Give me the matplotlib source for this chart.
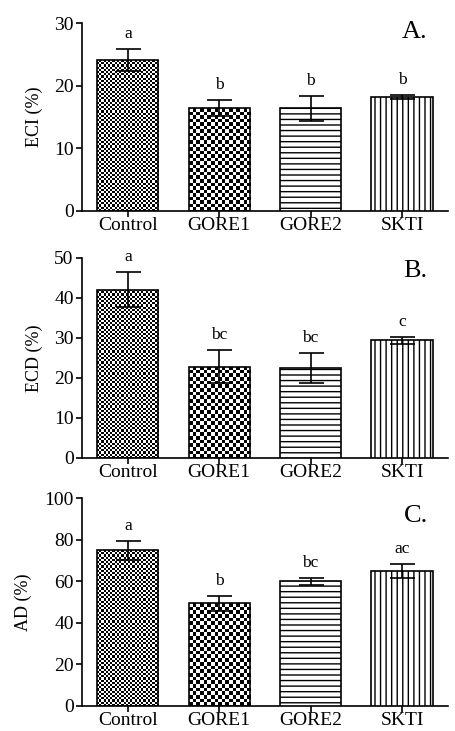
import numpy as np
import matplotlib
matplotlib.use('Agg')
import matplotlib.pyplot as plt

plt.rcParams['font.family'] = ['Liberation Serif', 'DejaVu Serif']
plt.rcParams['hatch.linewidth'] = 1.0

groups = ['Control', 'GORE1', 'GORE2', 'SKTI']

# panel A - ECI
eci_mean = [24.1, 16.4, 16.4, 18.2]
eci_err = [1.8, 1.3, 2.0, 0.3]
eci_letters = ['a', 'b', 'b', 'b']

# panel B - ECD
ecd_mean = [42.1, 22.8, 22.5, 29.4]
ecd_err = [4.3, 4.1, 3.7, 0.9]
ecd_letters = ['a', 'bc', 'bc', 'c']

# panel C - AD
ad_mean = [74.8, 49.3, 60.0, 64.8]
ad_err = [4.7, 3.7, 1.6, 3.3]
ad_letters = ['a', 'b', 'bc', 'ac']

panels = [
    (eci_mean, eci_err, eci_letters, 'ECI (%)', 30, 10, 'A.'),
    (ecd_mean, ecd_err, ecd_letters, 'ECD (%)', 50, 10, 'B.'),
    (ad_mean, ad_err, ad_letters, 'AD (%)', 100, 20, 'C.'),
]
# [left, bottom, width, height] in figure fractions
boxes = [[0.18, 0.7114, 0.802, 0.2571],
         [0.18, 0.3735, 0.802, 0.2736],
         [0.18, 0.0342, 0.802, 0.2845]]
label_x = [-0.107, -0.107, -0.137]
tag_y = [1.01, 0.99, 0.965]

# pattern for each group: checker cell size in px, or a hatch
patterns = [('checker', 2.2), ('checker', 3.6), ('hatch', '---'), ('hatch', '|||')]


def checker(ax, bar, cell):
    x0 = bar.get_x()
    x1 = x0 + bar.get_width()
    h = bar.get_height()
    p = ax.transData.transform([(x0, 0), (x1, h)])
    nx = max(1, int(round((p[1, 0] - p[0, 0]) / cell)))
    ny = max(1, int(round((p[1, 1] - p[0, 1]) / cell)))
    grid = np.indices((ny, nx)).sum(axis=0) % 2
    im = ax.imshow(grid, cmap='gray_r', vmin=0, vmax=1, extent=(x0, x1, 0, h),
                   interpolation='nearest', aspect='auto', zorder=2)
    im.set_clip_path(bar)


fig = plt.figure(figsize=(4.56, 7.31), dpi=100)

for (mean, err, letters, ylab, ymax, ystep, tag), box, lx, ty in zip(panels, boxes, label_x, tag_y):
    ax = fig.add_axes(box)
    x = np.arange(len(groups))
    ax.set_xlim(-0.5, len(groups) - 0.5)
    ax.set_ylim(0, ymax)
    bars = ax.bar(x, mean, width=0.67, facecolor='white', edgecolor='black',
                  linewidth=1.2, zorder=3)
    for b, (kind, val) in zip(bars, patterns):
        if kind == 'checker':
            b.set_facecolor('none')
            checker(ax, b, val)
        else:
            b.set_hatch(val)
    ax.set_xlim(-0.5, len(groups) - 0.5)
    ax.set_ylim(0, ymax)
    ax.errorbar(x, mean, yerr=err, fmt='none', ecolor='black', elinewidth=1.2,
                capsize=9, capthick=1.2, zorder=4)
    for xi, m, e, t in zip(x, mean, err, letters):
        ax.annotate(t, (xi, m + e), xytext=(0, 5), textcoords='offset points',
                    ha='center', va='bottom', fontsize=12.5)
    ax.set_yticks(np.arange(0, ymax + 1, ystep))
    ax.set_xticks(x)
    ax.set_xticklabels(groups)
    ax.tick_params(axis='both', labelsize=14, width=1.2, length=4, direction='out')
    ax.tick_params(axis='x', pad=0.5)
    ax.tick_params(axis='y', pad=2)
    ax.spines['top'].set_visible(False)
    ax.spines['right'].set_visible(False)
    ax.spines['left'].set_linewidth(1.2)
    ax.spines['bottom'].set_linewidth(1.2)
    ax.set_ylabel(ylab, fontsize=13)
    ax.yaxis.set_label_coords(lx, 0.5)
    ax.text(0.945, ty, tag, transform=ax.transAxes, ha='right', va='top', fontsize=19)

fig.savefig('out.png', dpi=100)
